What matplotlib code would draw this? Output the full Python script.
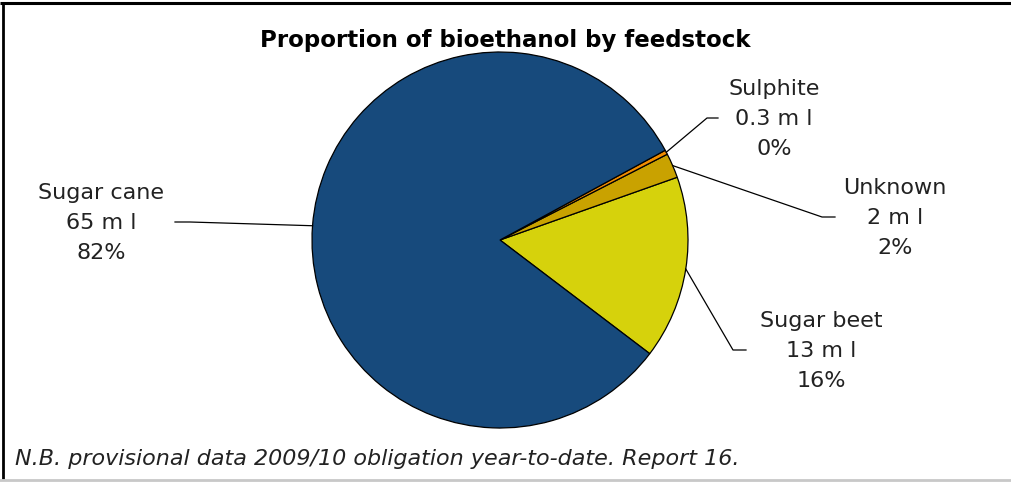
import numpy as np
import matplotlib
matplotlib.use("Agg")
import matplotlib.pyplot as plt

# ---- data (drawing order, counter-clockwise) ----
categories = ["Sugar beet", "Unknown", "Sulphite", "Sugar cane"]
values = [12.6, 1.7, 0.3, 65.4]          # million litres
volume_labels = ["13", "2", "0.3", "65"]
colors = ["#d6d20c", "#c9a200", "#f08c00", "#174a7c"]

title = "Proportion of bioethanol by feedstock"
footnote = "N.B. provisional data 2009/10 obligation year-to-date. Report 16."

W, H = 1011, 482
fig = plt.figure(figsize=(W / 100, H / 100), dpi=100)
ax = fig.add_axes([0, 0, 1, 1])

def py(y):  # pixel-from-top to data y
    return H - y

cx, cy, R = 500, py(240), 188
start = -37.2
wedges, _ = ax.pie(values, colors=colors, startangle=start, counterclock=True,
                   center=(cx, cy), radius=R,
                   wedgeprops=dict(edgecolor="black", linewidth=0.9))
ax.set_xlim(0, W)
ax.set_ylim(0, H)
ax.set_aspect("auto")
ax.axis("off")

total = sum(values)
pcts = [int(round(v / total * 100)) for v in values]

# label layout: (text center x, middle line y, elbow x, elbow y, end x)
layout = {
    "Sugar beet": (821, 351, 733, 350, 746),
    "Unknown": (895, 218, 822, 217, 835),
    "Sulphite": (774, 119, 707, 118, 718),
    "Sugar cane": (101, 223, 190, 222, 175),
}

for w, cat, vol, p in zip(wedges, categories, volume_labels, pcts):
    mid = np.deg2rad((w.theta1 + w.theta2) / 2)
    ax_x = cx + R * np.cos(mid)
    ax_y = cy + R * np.sin(mid)
    tx, ty, ex, ey, endx = layout[cat]
    ax.plot([ax_x, ex, endx], [ax_y, py(ey), py(ey)], color="black", lw=0.9)
    ax.text(tx, py(ty), f"{cat}\n{vol} m l\n{p}%", ha="center", va="center",
            fontsize=16, color="#222222", linespacing=1.63, family="DejaVu Sans")

ax.text(505, py(40), title, ha="center", va="center", fontsize=16.5,
        fontweight="bold", color="black", family="DejaVu Sans")
ax.text(15, py(459), footnote, ha="left", va="center", fontsize=16,
        style="italic", color="#222222", family="DejaVu Sans")

# frame
ax.plot([0, W], [py(3), py(3)], color="black", lw=2.2, solid_capstyle="butt")
ax.plot([3, 3], [py(2), py(479)], color="black", lw=2.0, solid_capstyle="butt")
ax.plot([0, W], [py(479.5), py(479.5)], color="#c8c8c8", lw=2.0)

fig.savefig("out.png", dpi=100, facecolor="white")
